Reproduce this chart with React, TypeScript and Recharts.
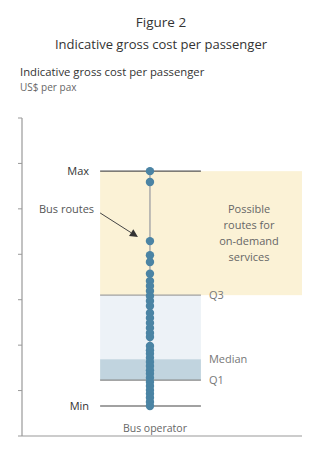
import React from 'react';
import { ComposedChart, Scatter, XAxis, YAxis, ReferenceArea, ReferenceLine } from 'recharts';

// ---- data ----
const categories = ['Bus operator'];
const busRouteCosts = [
  5.83, 5.59, 4.29, 3.98, 3.83, 3.57, 3.41, 3.3, 3.19, 3.08, 2.97, 2.86, 2.71, 2.6,
  2.49, 2.38, 2.27, 2.18, 1.98, 1.89, 1.81, 1.72, 1.63, 1.54, 1.45, 1.37, 1.28, 1.19,
  1.1, 1.01, 0.93, 0.84, 0.75, 0.66,
];
const statLabels = ['Max', 'Q3', 'Median', 'Q1', 'Min'];
const statValues = [5.83, 3.1, 1.69, 1.23, 0.66];
const yTicks = [0, 1, 2, 3, 4, 5, 6, 7];
const onDemandText = ['Possible', 'routes for', 'on-demand', 'services'];
const busRoutesLabel = 'Bus routes';
const arrowFrom = { x: 27.9, y: 4.91 };
const arrowTo = { x: 41.4, y: 4.38 };

// ---- layout ----
const W = 322;
const H = 454;
const boxLeft = 27.9;
const boxRight = 63.9;
const colX = 45.7;
const FONT = '"Open Sans", "Noto Sans", sans-serif';

const [maxV, q3V, medV, q1V, minV] = statValues;
const dots = busRouteCosts.map((v) => ({ x: colX, y: v, name: categories[0] }));

const txt = { fontFamily: FONT, fontSize: 11 } as const;

const App = () => {
  return (
    <div style={{ position: 'absolute', left: 0, top: 0, width: W, height: H, background: '#fff', fontFamily: FONT }}>
      <div style={{ position: 'absolute', left: 0, width: W, top: 13, textAlign: 'center', fontSize: 13.5, color: '#333' }}>Figure 2</div>
      <div style={{ position: 'absolute', left: 0, width: W, top: 35, textAlign: 'center', fontSize: 13, color: '#333' }}>
        Indicative gross cost per passenger
      </div>
      <div style={{ position: 'absolute', left: 20, top: 64, fontSize: 11.3, color: '#333' }}>Indicative gross cost per passenger</div>
      <div style={{ position: 'absolute', left: 20, top: 80, fontSize: 10, color: '#666' }}>US$ per pax</div>
      <div style={{ position: 'absolute', left: 0, top: 0 }}>
        <ComposedChart width={W} height={H} margin={{ top: 118, right: 20, bottom: 8, left: 12 }} style={{ fontFamily: FONT }}>
          <XAxis
            type="number"
            dataKey="x"
            domain={[0, 100]}
            ticks={[]}
            tick={() => <g />}
            tickLine={false}
            height={10}
            axisLine={{ stroke: '#999', strokeWidth: 1.2 }}
          />
          <YAxis
            type="number"
            dataKey="y"
            domain={[0, 7]}
            ticks={yTicks}
            interval={0}
            width={10}
            tickSize={4}
            tick={() => <g />}
            tickLine={{ stroke: '#999' }}
            axisLine={{ stroke: '#999', strokeWidth: 1.2 }}
          />
          <ReferenceArea
            x1={boxLeft}
            x2={100}
            y1={q3V}
            y2={maxV}
            fill="#fbf2d6"
            fillOpacity={1}
            stroke="none"
            shape={(p: any) => (
              <g>
                <rect x={p.x} y={p.y} width={p.width} height={p.height} fill="#fbf2d6" />
                {onDemandText.map((t, i) => (
                  <text key={t} x={p.x + p.width - 53} y={p.y + p.height / 2 + (i - 1.5) * 15.7} dy="0.35em" textAnchor="middle" fill="#666" style={txt}>
                    {t}
                  </text>
                ))}
              </g>
            )}
          />
          <ReferenceArea x1={boxLeft} x2={boxRight} y1={medV} y2={q3V} fill="#edf2f7" fillOpacity={1} stroke="none" />
          <ReferenceArea
            x1={boxLeft}
            x2={boxRight}
            y1={q1V}
            y2={medV}
            stroke="none"
            shape={(p: any) => (
              <g>
                <rect x={p.x} y={p.y} width={p.width} height={p.height} fill="#c1d4df" />
                <text x={p.x + p.width + 8} y={p.y} dy="0.35em" fill="#777" style={txt}>
                  {statLabels[2]}
                </text>
              </g>
            )}
          />
          {[
            { v: maxV, label: statLabels[0], side: 'left', stroke: '#555', color: '#333' },
            { v: q3V, label: statLabels[1], side: 'right', stroke: '#a0a0a0', color: '#777' },
            { v: q1V, label: statLabels[3], side: 'right', stroke: '#888', color: '#777' },
            { v: minV, label: statLabels[4], side: 'left', stroke: '#444', color: '#333' },
          ].map((s) => (
            <ReferenceLine
              key={s.label}
              segment={[
                { x: boxLeft, y: s.v },
                { x: boxRight, y: s.v },
              ]}
              shape={(p: any) => (
                <g>
                  <line x1={p.x1} y1={p.y1} x2={p.x2} y2={p.y2} stroke={s.stroke} strokeWidth={1.2} />
                  <text
                    x={s.side === 'left' ? p.x1 - 11 : p.x2 + 8}
                    y={p.y1}
                    dy="0.35em"
                    textAnchor={s.side === 'left' ? 'end' : 'start'}
                    fill={s.color}
                    style={txt}
                  >
                    {s.label}
                  </text>
                </g>
              )}
            />
          ))}
          <ReferenceLine
            segment={[
              { x: colX, y: maxV },
              { x: colX, y: minV },
            ]}
            shape={(p: any) => (
              <g>
                <line x1={p.x1} y1={p.y1} x2={p.x2} y2={p.y2} stroke="#aaa" strokeWidth={1.5} />
                <text x={p.x2 + 5} y={p.y2 + 22} dy="0.35em" textAnchor="middle" fill="#666" style={{ ...txt, fontSize: 10.5 }}>
                  {categories[0]}
                </text>
              </g>
            )}
          />
          <ReferenceLine
            segment={[arrowFrom, arrowTo]}
            shape={(p: any) => {
              const dx = p.x2 - p.x1;
              const dy = p.y2 - p.y1;
              const len = Math.sqrt(dx * dx + dy * dy);
              const ux = dx / len;
              const uy = dy / len;
              const hl = 8;
              const hw = 4;
              const bx = p.x2 - ux * hl;
              const by = p.y2 - uy * hl;
              return (
                <g>
                  <line x1={p.x1} y1={p.y1} x2={bx} y2={by} stroke="#444" strokeWidth={1} />
                  <polygon
                    points={`${p.x2},${p.y2} ${bx - uy * hw},${by + ux * hw} ${bx + uy * hw},${by - ux * hw}`}
                    fill="#333"
                  />
                  <text x={p.x1 - 6} y={p.y1 - 4} dy="0.35em" textAnchor="end" fill="#555" style={txt}>
                    {busRoutesLabel}
                  </text>
                </g>
              );
            }}
          />
          <Scatter
            data={dots}
            isAnimationActive={false}
            shape={(p: any) => <circle cx={p.cx} cy={p.cy} r={4.2} fill="#4b84a4" />}
          />
        </ComposedChart>
      </div>
    </div>
  );
};

export default App;
